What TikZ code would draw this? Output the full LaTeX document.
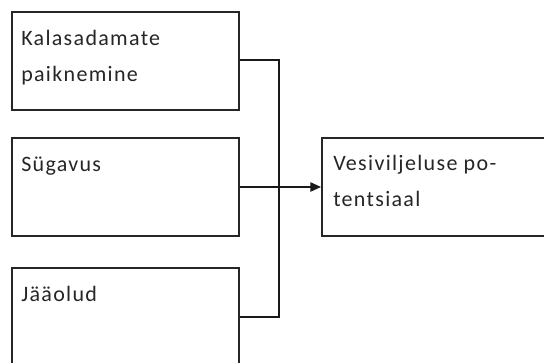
\documentclass[tikz,border=0pt]{standalone}
\usepackage{fontspec}
\setmainfont{Carlito}[LetterSpace=6]
\usetikzlibrary{arrows.meta}
\begin{document}
\begin{tikzpicture}[x=0.75pt,y=-0.75pt,
  box/.style={draw=black!85, line width=1.2pt, inner sep=0pt, anchor=north west,
              minimum width=170.25pt, minimum height=73.5pt},
  txt/.style={anchor=base west, inner sep=0pt, font=\fontsize{16.5}{27}\selectfont, text=black!85},
  link/.style={draw=black!90, line width=1.2pt},
  flow/.style={link, -{Triangle[length=8pt,width=7pt]}}]
  \clip (0,0) rectangle (544,363);
  \fill[white] (0,0) rectangle (544,363);

  % input boxes
  \node[box] (b1) at (11,11) {};
  \node[box] (b2) at (11,137.5) {};
  \node[box] (b3) at (11,267) {};
  % result box, running past the right edge
  \node[box, minimum width=180pt] (r) at (321,137.5) {};

  \node[txt] (b1a) at (21,46) {Kalasadamate};
  \node[txt] (b1b) at (21,82) {paiknemine};
  \node[txt] (b2a) at (21,172) {Sügavus};
  \node[txt] (b3a) at (21,302) {Jääolud};
  \node[txt] (ra) at (333,171) {Vesiviljeluse po-};
  \node[txt] (rb) at (333,207) {tentsiaal};

  % connectors
  \coordinate (j) at (279,187);
  \path[link] (b1.east |- 0,60) -| (j);
  \path[link] (b3.east |- 0,317) -| (j);
  \path[flow] (b2.east |- 0,187) -- (r.west |- 0,187);
\end{tikzpicture}
\end{document}
